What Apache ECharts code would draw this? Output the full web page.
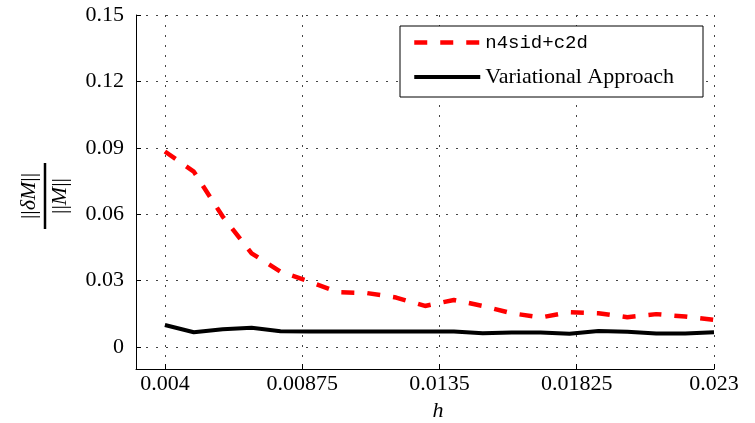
<!DOCTYPE html>
<html>
<head>
<meta charset="utf-8">
<script src="https://cdn.jsdelivr.net/npm/echarts@6/dist/echarts.min.js"></script>
<style>
  html, body { margin: 0; padding: 0; background: #fff; }
  #chart { width: 755px; height: 423px; }
</style>
</head>
<body>
<div id="chart"></div>
<script>
// Step sizes h and the relative error of each identification method
const hValues = [0.004, 0.005, 0.006, 0.007, 0.008, 0.009, 0.010, 0.011, 0.012, 0.013,
                 0.014, 0.015, 0.016, 0.017, 0.018, 0.019, 0.020, 0.021, 0.022, 0.023];
const n4sidErr = [0.0883, 0.0792, 0.0589, 0.0423, 0.0340, 0.0295, 0.0247, 0.0243, 0.0223, 0.0185,
                  0.0212, 0.0185, 0.0152, 0.0133, 0.0157, 0.0152, 0.0134, 0.0148, 0.0137, 0.0122];
const variationalErr = [0.0099, 0.0066, 0.0080, 0.0086, 0.0071, 0.0070, 0.0070, 0.0070, 0.0070, 0.0070,
                        0.0069, 0.0062, 0.0065, 0.0065, 0.0059, 0.0072, 0.0068, 0.0060, 0.0060, 0.0066];
const xTicks = [0.004, 0.00875, 0.0135, 0.01825, 0.023];
const yTicks = [0, 0.03, 0.06, 0.09, 0.12, 0.15];
const seriesNames = ['n4sid+c2d', 'Variational Approach'];

const serif = "'Liberation Serif', 'DejaVu Serif', serif";
const mono = "'Liberation Mono', 'DejaVu Sans Mono', monospace";

const gridDots = { color: '#444', width: 1, type: [2, 8] };
const fracText = {
  n: { fontFamily: serif, fontSize: 22, fill: '#000' },
  i: { fontFamily: serif, fontSize: 22, fontStyle: 'italic', fill: '#000' }
};

const chart = echarts.init(document.getElementById('chart'), null, { renderer: 'canvas' });

chart.setOption({
  animation: false,
  backgroundColor: '#fff',
  grid: { left: 136, right: 41, top: 15, bottom: 54, containLabel: false, outerBoundsMode: 'none' },
  xAxis: {
    type: 'value',
    min: 0.003,
    max: 0.023,
    name: 'h',
    nameLocation: 'middle',
    nameGap: 30,
    nameTextStyle: { fontFamily: serif, fontStyle: 'italic', fontSize: 22, color: '#000', padding: [0, 0, 0, 26] },
    axisLine: { show: true, onZero: false, lineStyle: { color: '#000', width: 1 } },
    axisTick: { show: true, inside: true, length: 5, customValues: xTicks, lineStyle: { color: '#000' } },
    axisLabel: { customValues: xTicks, fontFamily: serif, fontSize: 22, color: '#000', margin: 4 },
    splitLine: { show: true, lineStyle: gridDots }
  },
  yAxis: {
    type: 'value',
    min: -0.01,
    max: 0.15,
    axisLine: { show: true, onZero: false, lineStyle: { color: '#000', width: 1 } },
    axisTick: { show: true, inside: true, length: 5, customValues: yTicks, lineStyle: { color: '#000' } },
    axisLabel: { customValues: yTicks, fontFamily: serif, fontSize: 22, color: '#000', margin: 12 },
    splitLine: { show: true, lineStyle: gridDots }
  },
  legend: {
    orient: 'vertical',
    left: 400,
    top: 26,
    padding: [7, 29, 9, 12],
    itemWidth: 66,
    itemHeight: 14,
    itemGap: 14,
    backgroundColor: '#fff',
    borderColor: '#000',
    borderWidth: 1,
    borderRadius: 0,
    itemStyle: { opacity: 0 },
    data: [
      {
        name: seriesNames[0],
        lineStyle: { width: 4.5 },
        textStyle: { fontFamily: mono, fontSize: 19, color: '#000' }
      },
      {
        name: seriesNames[1],
        lineStyle: { width: 4 },
        textStyle: { fontFamily: serif, fontSize: 22, color: '#000' }
      }
    ]
  },
  series: [
    {
      name: seriesNames[0],
      type: 'line',
      data: hValues.map((h, i) => [h, n4sidErr[i]]),
      symbol: 'none',
      lineStyle: { color: '#ff0000', width: 4.5, type: [13, 13], cap: 'butt' },
      itemStyle: { color: '#ff0000' },
      z: 3
    },
    {
      name: seriesNames[1],
      type: 'line',
      data: hValues.map((h, i) => [h, variationalErr[i]]),
      symbol: 'none',
      lineStyle: { color: '#000', width: 4 },
      itemStyle: { color: '#000' },
      z: 2
    }
  ],
  graphic: [
    {
      // y-axis label: the fraction ||δM|| / ||M||, read bottom to top
      type: 'group',
      x: 45,
      y: 196,
      rotation: Math.PI / 2,
      children: [
        {
          type: 'text',
          x: 0,
          y: -16,
          style: { text: '{n|||}{i|δM}{n|||}', align: 'center', verticalAlign: 'middle', fill: '#000', rich: fracText }
        },
        {
          type: 'line',
          shape: { x1: -33, y1: 0, x2: 33, y2: 0 },
          style: { stroke: '#000', lineWidth: 2.5 }
        },
        {
          type: 'text',
          x: 0,
          y: 15,
          style: { text: '{n|||}{i|M}{n|||}', align: 'center', verticalAlign: 'middle', fill: '#000', rich: fracText }
        }
      ]
    }
  ]
});
</script>
</body>
</html>
